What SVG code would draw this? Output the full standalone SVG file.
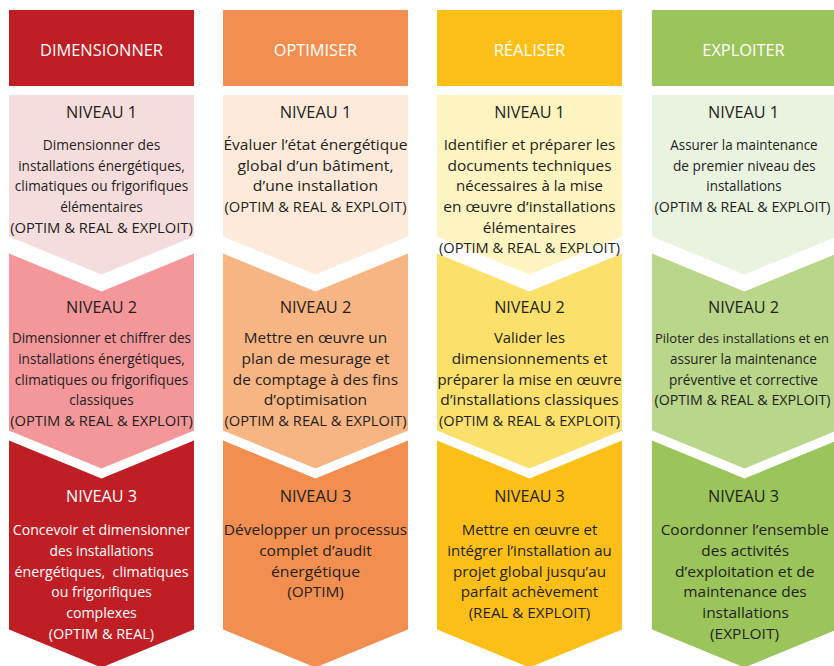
<svg xmlns="http://www.w3.org/2000/svg" width="834" height="666" viewBox="0 0 834 666">
<style>
text{font-family:"Open Sans","Liberation Sans",sans-serif;font-size:15px;fill:#231F20;text-anchor:middle}
.h{fill:#FFFFFF;font-size:16px}
.n{font-size:16px}
.w{fill:#FFFFFF}
.s{font-size:14px}
.s2{font-size:12.8px}
</style>
<rect width="834" height="666" fill="#FFFFFF"/>

<!-- Column 1: DIMENSIONNER -->
<g id="dim-header">
<rect x="9" y="10" width="185" height="76" fill="#BF1E25"/>
<text class="h" x="101.5" y="55.5" textLength="123" lengthAdjust="spacingAndGlyphs">DIMENSIONNER</text>
</g>
<g id="dim-n1">
<polygon points="9,95 194,95 194,236.5 101.5,274.5 9,236.5" fill="#F5DDDD"/>
<text class="n" x="101.5" y="118" textLength="71" lengthAdjust="spacingAndGlyphs">NIVEAU 1</text>
<text x="101.5" y="150" textLength="117.7" lengthAdjust="spacingAndGlyphs">Dimensionner des</text>
<text x="101.5" y="170.7" textLength="166.7" lengthAdjust="spacingAndGlyphs">installations énergétiques,</text>
<text x="101.5" y="191.3" textLength="173.3" lengthAdjust="spacingAndGlyphs">climatiques ou frigorifiques</text>
<text x="101.5" y="212" textLength="82.7" lengthAdjust="spacingAndGlyphs">élémentaires</text>
<text x="101.5" y="232.7" textLength="182.7" lengthAdjust="spacingAndGlyphs">(OPTIM &amp; REAL &amp; EXPLOIT)</text>
</g>
<g id="dim-n2">
<polygon points="9,253.5 101.5,291.5 194,253.5 194,430.5 101.5,468.5 9,430.5" fill="#F3979B"/>
<text class="n" x="101.5" y="313" textLength="71" lengthAdjust="spacingAndGlyphs">NIVEAU 2</text>
<text x="101.5" y="343.3" textLength="179" lengthAdjust="spacingAndGlyphs">Dimensionner et chiffrer des</text>
<text x="101.5" y="364" textLength="166.7" lengthAdjust="spacingAndGlyphs">installations énergétiques,</text>
<text x="101.5" y="384.7" textLength="173.3" lengthAdjust="spacingAndGlyphs">climatiques ou frigorifiques</text>
<text x="101.5" y="405.4" textLength="64.3" lengthAdjust="spacingAndGlyphs">classiques</text>
<text x="101.5" y="426" textLength="182.7" lengthAdjust="spacingAndGlyphs">(OPTIM &amp; REAL &amp; EXPLOIT)</text>
</g>
<g id="dim-n3">
<polygon points="9,440.5 101.5,478.5 194,440.5 194,629.5 101.5,667.5 9,629.5" fill="#BF1E25"/>
<text class="n w" x="101.5" y="501.7" textLength="71" lengthAdjust="spacingAndGlyphs">NIVEAU 3</text>
<text class="w" x="101.5" y="535.3" textLength="177.3" lengthAdjust="spacingAndGlyphs">Concevoir et dimensionner</text>
<text class="w" x="101.5" y="556" textLength="104" lengthAdjust="spacingAndGlyphs">des installations</text>
<text class="w" x="101.5" y="576.7" textLength="174" lengthAdjust="spacingAndGlyphs" xml:space="preserve">énergétiques,  climatiques</text>
<text class="w" x="101.5" y="597.4" textLength="100.7" lengthAdjust="spacingAndGlyphs">ou frigorifiques</text>
<text class="w" x="101.5" y="618" textLength="70.7" lengthAdjust="spacingAndGlyphs">complexes</text>
<text class="w" x="101.5" y="638.7" textLength="105.3" lengthAdjust="spacingAndGlyphs">(OPTIM &amp; REAL)</text>
</g>

<!-- Column 2: OPTIMISER -->
<g id="opt-header">
<rect x="223" y="10" width="185" height="76" fill="#F28F50"/>
<text class="h" x="315.5" y="55.5" textLength="83.3" lengthAdjust="spacingAndGlyphs">OPTIMISER</text>
</g>
<g id="opt-n1">
<polygon points="223,95 408,95 408,236.5 315.5,274.5 223,236.5" fill="#FDEADB"/>
<text class="n" x="315.5" y="118" textLength="71.7" lengthAdjust="spacingAndGlyphs">NIVEAU 1</text>
<text x="315.5" y="150" textLength="184" lengthAdjust="spacingAndGlyphs">Évaluer l’état énergétique</text>
<text x="315.5" y="170.7" textLength="156" lengthAdjust="spacingAndGlyphs">global d’un bâtiment,</text>
<text x="315.5" y="191.3" textLength="125.3" lengthAdjust="spacingAndGlyphs">d’une installation</text>
<text x="315.5" y="212" textLength="182" lengthAdjust="spacingAndGlyphs">(OPTIM &amp; REAL &amp; EXPLOIT)</text>
</g>
<g id="opt-n2">
<polygon points="223,253.5 315.5,291.5 408,253.5 408,430.5 315.5,468.5 223,430.5" fill="#F8B584"/>
<text class="n" x="315.5" y="313" textLength="71.7" lengthAdjust="spacingAndGlyphs">NIVEAU 2</text>
<text x="315.5" y="343.3" textLength="143.3" lengthAdjust="spacingAndGlyphs">Mettre en œuvre un</text>
<text x="315.5" y="364" textLength="148" lengthAdjust="spacingAndGlyphs">plan de mesurage et</text>
<text x="315.5" y="384.7" textLength="165.3" lengthAdjust="spacingAndGlyphs">de comptage à des fins</text>
<text x="315.5" y="405.4" textLength="103.3" lengthAdjust="spacingAndGlyphs">d’optimisation</text>
<text x="315.5" y="426" textLength="182" lengthAdjust="spacingAndGlyphs">(OPTIM &amp; REAL &amp; EXPLOIT)</text>
</g>
<g id="opt-n3">
<polygon points="223,440.5 315.5,478.5 408,440.5 408,629.5 315.5,667.5 223,629.5" fill="#F28F50"/>
<text class="n" x="315.5" y="501.7" textLength="71.7" lengthAdjust="spacingAndGlyphs">NIVEAU 3</text>
<text x="315.5" y="535.3" textLength="183.3" lengthAdjust="spacingAndGlyphs">Développer un processus</text>
<text x="315.5" y="556" textLength="112.7" lengthAdjust="spacingAndGlyphs">complet d’audit</text>
<text x="315.5" y="576.7" textLength="89" lengthAdjust="spacingAndGlyphs">énergétique</text>
<text x="315.5" y="597.4" textLength="56.7" lengthAdjust="spacingAndGlyphs">(OPTIM)</text>
</g>

<!-- Column 3: RÉALISER -->
<g id="rea-header">
<rect x="437" y="10" width="185" height="76" fill="#FBBF17"/>
<text class="h" x="529.5" y="55.5" textLength="71.7" lengthAdjust="spacingAndGlyphs">RÉALISER</text>
</g>
<g id="rea-n1">
<polygon points="437,95 622,95 622,236.5 529.5,274.5 437,236.5" fill="#FEF4C1"/>
<text class="n" x="529.5" y="118" textLength="70.7" lengthAdjust="spacingAndGlyphs">NIVEAU 1</text>
<text x="529.5" y="150" textLength="171.7" lengthAdjust="spacingAndGlyphs">Identifier et préparer les</text>
<text x="529.5" y="170.7" textLength="164" lengthAdjust="spacingAndGlyphs">documents techniques</text>
<text x="529.5" y="191.3" textLength="147" lengthAdjust="spacingAndGlyphs">nécessaires à la mise</text>
<text x="529.5" y="212" textLength="172.3" lengthAdjust="spacingAndGlyphs">en œuvre d’installations</text>
<text x="529.5" y="232.7" textLength="93.3" lengthAdjust="spacingAndGlyphs">élémentaires</text>
</g>
<g id="rea-n2">
<polygon points="437,253.5 529.5,291.5 622,253.5 622,430.5 529.5,468.5 437,430.5" fill="#FBE06B"/>
<text x="529.5" y="253.3" textLength="181" lengthAdjust="spacingAndGlyphs">(OPTIM &amp; REAL &amp; EXPLOIT)</text>
<text class="n" x="529.5" y="313" textLength="70.7" lengthAdjust="spacingAndGlyphs">NIVEAU 2</text>
<text x="529.5" y="343.3" textLength="71" lengthAdjust="spacingAndGlyphs">Valider les</text>
<text x="529.5" y="364" textLength="155.7" lengthAdjust="spacingAndGlyphs">dimensionnements et</text>
<text x="529.5" y="384.7" textLength="184" lengthAdjust="spacingAndGlyphs">préparer la mise en œuvre</text>
<text x="529.5" y="405.4" textLength="178.3" lengthAdjust="spacingAndGlyphs">d’installations classiques</text>
<text x="529.5" y="426" textLength="181" lengthAdjust="spacingAndGlyphs">(OPTIM &amp; REAL &amp; EXPLOIT)</text>
</g>
<g id="rea-n3">
<polygon points="437,440.5 529.5,478.5 622,440.5 622,629.5 529.5,667.5 437,629.5" fill="#FBBF17"/>
<text class="n" x="529.5" y="501.7" textLength="70.7" lengthAdjust="spacingAndGlyphs">NIVEAU 3</text>
<text x="529.5" y="535.3" textLength="135.7" lengthAdjust="spacingAndGlyphs">Mettre en œuvre et</text>
<text x="529.5" y="556" textLength="164.7" lengthAdjust="spacingAndGlyphs">intégrer l’installation au</text>
<text x="529.5" y="576.7" textLength="153" lengthAdjust="spacingAndGlyphs">projet global jusqu’au</text>
<text x="529.5" y="597.4" textLength="137.3" lengthAdjust="spacingAndGlyphs">parfait achèvement</text>
<text x="529.5" y="618" textLength="121.7" lengthAdjust="spacingAndGlyphs">(REAL &amp; EXPLOIT)</text>
</g>

<!-- Column 4: EXPLOITER -->
<g id="exp-header">
<rect x="652" y="10" width="185" height="76" fill="#9BC45A"/>
<text class="h" x="743.5" y="55.5" textLength="82.3" lengthAdjust="spacingAndGlyphs">EXPLOITER</text>
</g>
<g id="exp-n1">
<polygon points="652,95 837,95 837,236.5 744.5,274.5 652,236.5" fill="#EAF2E0"/>
<text class="n" x="743.5" y="118" textLength="71" lengthAdjust="spacingAndGlyphs">NIVEAU 1</text>
<text x="744" y="150" textLength="147.3" lengthAdjust="spacingAndGlyphs">Assurer la maintenance</text>
<text x="744.3" y="170.7" textLength="142.7" lengthAdjust="spacingAndGlyphs">de premier niveau des</text>
<text x="744" y="191.3" textLength="75.3" lengthAdjust="spacingAndGlyphs">installations</text>
<text class="s" x="742.5" y="212" textLength="176" lengthAdjust="spacingAndGlyphs">(OPTIM &amp; REAL &amp; EXPLOIT)</text>
</g>
<g id="exp-n2">
<polygon points="652,253.5 744.5,291.5 837,253.5 837,430.5 744.5,468.5 652,430.5" fill="#B9D68A"/>
<text class="n" x="743.5" y="313" textLength="71" lengthAdjust="spacingAndGlyphs">NIVEAU 2</text>
<text class="s2" x="742" y="343.3" textLength="174" lengthAdjust="spacingAndGlyphs">Piloter des installations et en</text>
<text x="743.4" y="364" textLength="146.7" lengthAdjust="spacingAndGlyphs">assurer la maintenance</text>
<text x="743.5" y="384.7" textLength="149" lengthAdjust="spacingAndGlyphs">préventive et corrective</text>
<text class="s" x="742.5" y="405.4" textLength="176" lengthAdjust="spacingAndGlyphs">(OPTIM &amp; REAL &amp; EXPLOIT)</text>
</g>
<g id="exp-n3">
<polygon points="652,440.5 744.5,478.5 837,440.5 837,629.5 744.5,667.5 652,629.5" fill="#9BC45A"/>
<text class="n" x="743.5" y="501.7" textLength="71" lengthAdjust="spacingAndGlyphs">NIVEAU 3</text>
<text x="744.8" y="535.3" textLength="168.3" lengthAdjust="spacingAndGlyphs">Coordonner l’ensemble</text>
<text x="745.2" y="556" textLength="87.7" lengthAdjust="spacingAndGlyphs">des activités</text>
<text x="744.8" y="576.7" textLength="139.7" lengthAdjust="spacingAndGlyphs">d’exploitation et de</text>
<text x="745" y="597.4" textLength="123.3" lengthAdjust="spacingAndGlyphs">maintenance des</text>
<text x="745.6" y="618" textLength="86.7" lengthAdjust="spacingAndGlyphs">installations</text>
<text x="744.5" y="638.7" textLength="69" lengthAdjust="spacingAndGlyphs">(EXPLOIT)</text>
</g>
</svg>
